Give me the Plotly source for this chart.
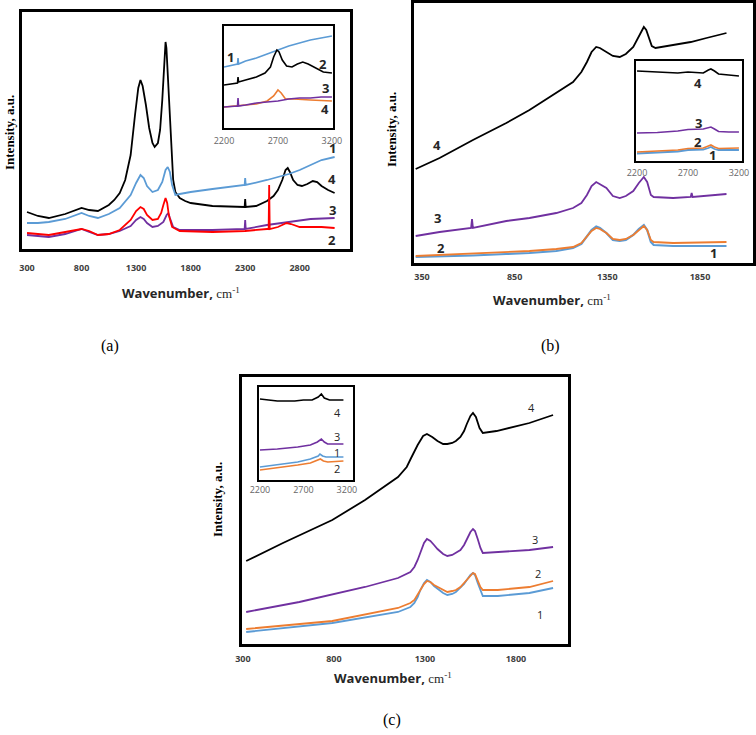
import plotly.graph_objects as go

W, H = 756, 735

BLACK = "#000000"
BLUE = "#5B9BD5"
ORANGE = "#ED7D31"
PURPLE = "#7030A0"
RED = "#FF0000"

# ---------------- Panel (a) main ----------------
A_BLACK_WN = [300, 400, 500, 650, 800, 870, 950, 1050, 1100, 1150, 1200, 1250, 1290, 1320, 1340, 1360, 1390, 1420, 1450, 1470, 1500, 1520, 1540, 1555, 1565, 1570, 1578, 1590, 1605, 1620, 1640, 1660, 1700, 1750, 1800, 2000, 2295, 2300, 2305, 2400, 2500, 2560, 2600, 2640, 2670, 2690, 2710, 2740, 2780, 2820, 2870, 2920, 2960, 3000, 3060, 3120]
A_BLACK_I = [37, 33, 31, 35, 41, 39, 38, 44, 49, 56, 69, 94, 134, 161, 169, 163, 144, 121, 106, 102, 106, 119, 149, 184, 204, 207, 201, 174, 134, 99, 69, 57, 51, 48, 46, 43, 42, 50, 42, 43, 48, 53, 59, 69, 79, 81, 77, 69, 64, 63, 65, 68, 67, 63, 59, 56]

A_BLUE_WN = [300, 400, 500, 650, 800, 870, 950, 1050, 1150, 1250, 1300, 1340, 1370, 1400, 1450, 1500, 1540, 1570, 1590, 1610, 1630, 1660, 1700, 1800, 2000, 2295, 2300, 2305, 2500, 2700, 2800, 2900, 3000, 3120]
A_BLUE_I = [26, 26, 27, 30, 36, 33, 31, 35, 41, 54, 66, 74, 71, 63, 57, 59, 67, 79, 82, 77, 64, 54, 55, 57, 60, 64, 71, 64, 69, 75, 79, 84, 89, 92]

A_RED_WN = [300, 400, 500, 650, 800, 870, 950, 1050, 1150, 1250, 1300, 1340, 1370, 1400, 1450, 1500, 1530, 1550, 1570, 1585, 1600, 1630, 1700, 2000, 2300, 2500, 2515, 2520, 2525, 2600, 2680, 2720, 2800, 3000, 3120]
A_RED_I = [16, 15, 14, 17, 20, 18, 14, 15, 19, 29, 38, 42, 40, 34, 29, 30, 36, 44, 51, 46, 34, 22, 18, 17, 18, 20, 20, 64, 20, 22, 26, 25, 22, 22, 21]

A_PURPLE_WN = [300, 400, 500, 650, 800, 870, 950, 1050, 1150, 1250, 1300, 1340, 1370, 1400, 1450, 1500, 1550, 1580, 1595, 1610, 1640, 1700, 2000, 2295, 2300, 2305, 2500, 2700, 2900, 3120]
A_PURPLE_I = [14, 13, 12, 15, 20, 17, 14, 15, 18, 23, 29, 32, 30, 26, 22, 23, 27, 34, 36, 31, 22, 19, 19, 20, 29, 20, 24, 27, 30, 31]

A_TICKS = [300, 800, 1300, 1800, 2300, 2800]

# ---------------- Panel (a) inset ----------------
AI_BLUE_WN = [2200, 2300, 2325, 2330, 2335, 2400, 2500, 2600, 2700, 2800, 2900, 3000, 3100, 3200]
AI_BLUE_I = [61, 64, 64, 70, 64, 67, 70, 74, 78, 82, 85, 88, 90, 92]
AI_BLACK_WN = [2200, 2300, 2325, 2330, 2335, 2400, 2500, 2580, 2630, 2660, 2690, 2710, 2740, 2780, 2830, 2880, 2930, 2980, 3050, 3120, 3200]
AI_BLACK_I = [43, 45, 45, 51, 46, 48, 51, 55, 61, 71, 78, 76, 68, 62, 61, 64, 66, 64, 60, 56, 55]
AI_ORANGE_WN = [2200, 2300, 2400, 2500, 2600, 2660, 2700, 2730, 2770, 2850, 3000, 3200]
AI_ORANGE_I = [21, 22, 23, 24, 27, 32, 38, 35, 29, 29, 28, 27]
AI_PURPLE_WN = [2200, 2325, 2330, 2335, 2400, 2500, 2600, 2700, 2800, 2900, 3000, 3100, 3200]
AI_PURPLE_I = [21, 22, 30, 22, 23, 25, 26, 27, 29, 30, 30, 31, 31]

INSET_TICKS = [2200, 2700, 3200]

# ---------------- Panel (b) main ----------------
B_BLACK_WN = [316, 445, 625, 805, 930, 1075, 1165, 1210, 1240, 1265, 1290, 1310, 1345, 1380, 1417, 1450, 1490, 1515, 1535, 1547, 1560, 1575, 1590, 1610, 1705, 1800, 1885, 1993]
B_BLACK_I = [94, 105, 123, 140, 153, 170, 181, 191, 201, 211, 216, 215, 211, 207, 206, 209, 216, 225, 233, 236, 233, 225, 217, 215, 218, 221, 225, 230]

B_PURPLE_WN = [316, 445, 615, 620, 625, 700, 805, 930, 1075, 1165, 1210, 1240, 1265, 1290, 1310, 1345, 1380, 1417, 1450, 1490, 1520, 1547, 1565, 1585, 1600, 1705, 1800, 1805, 1810, 1993]
B_PURPLE_I = [27, 31, 35, 44, 35, 38, 42, 45, 50, 55, 60, 68, 77, 81, 79, 75, 67, 65, 67, 72, 80, 86, 81, 68, 66, 65, 66, 70, 66, 69]

B_ORANGE_WN = [316, 445, 625, 805, 930, 1075, 1165, 1210, 1240, 1265, 1290, 1310, 1345, 1380, 1417, 1450, 1490, 1520, 1547, 1565, 1585, 1600, 1705, 1993]
B_ORANGE_I = [7, 8, 9, 11, 12, 14, 16, 20, 26, 32, 35, 34, 30, 24, 23, 24, 28, 33, 37, 33, 23, 21, 20, 21]

B_BLUE_WN = [316, 445, 625, 805, 930, 1075, 1165, 1210, 1240, 1265, 1290, 1310, 1345, 1380, 1417, 1450, 1490, 1520, 1547, 1565, 1585, 1600, 1705, 1993]
B_BLUE_I = [6, 6.5, 7.5, 9, 10, 12, 15, 19, 26, 33, 36.5, 35, 30, 23, 22, 23, 28, 34, 38, 33, 21, 18, 17, 17]

B_TICKS = [350, 850, 1350, 1850]

# ---------------- Panel (b) inset ----------------
BI_BLACK_WN = [2200, 2400, 2600, 2700, 2850, 2900, 2925, 2960, 3000, 3100, 3200]
BI_BLACK_I = [90, 89, 88, 89, 88, 91, 92, 90, 87, 86, 85]
BI_PURPLE_WN = [2200, 2400, 2600, 2700, 2850, 2900, 2925, 2960, 3000, 3100, 3200]
BI_PURPLE_I = [28, 28.5, 30, 31.5, 32, 33.5, 34, 32, 29.5, 29, 29]
BI_ORANGE_WN = [2200, 2400, 2600, 2700, 2850, 2900, 2925, 2960, 3000, 3200]
BI_ORANGE_I = [9, 10, 11, 12.5, 13, 15, 16, 14, 12.5, 13]
BI_BLUE_WN = [2200, 2400, 2600, 2700, 2850, 2900, 2925, 2960, 3000, 3200]
BI_BLUE_I = [7.5, 8.5, 9.5, 11, 11.5, 13, 14, 12, 11, 11]

# ---------------- Panel (c) main ----------------
C_BLACK_WN = [318, 520, 791, 971, 1152, 1200, 1224, 1260, 1290, 1311, 1340, 1369, 1400, 1423, 1450, 1470, 1495, 1515, 1530, 1550, 1564, 1580, 1600, 1618, 1693, 1874, 2004]
C_BLACK_I = [83, 101, 124, 144, 167, 177, 186, 199, 208, 210, 207, 203, 200, 200, 201, 203, 207, 213, 220, 228, 231, 227, 216, 211, 213, 221, 229]

C_PURPLE_WN = [318, 610, 971, 1152, 1220, 1242, 1260, 1275, 1295, 1311, 1330, 1350, 1369, 1400, 1423, 1450, 1470, 1495, 1515, 1530, 1550, 1564, 1575, 1590, 1605, 1618, 1700, 1874, 2004]
C_PURPLE_I = [32, 42, 57, 66, 72, 77, 84, 92, 101, 105, 103, 99, 95, 90, 88, 89, 91, 94, 99, 104, 112, 115, 113, 105, 96, 91, 92, 94, 97]

C_ORANGE_WN = [318, 791, 1152, 1220, 1242, 1260, 1275, 1295, 1311, 1330, 1350, 1369, 1400, 1423, 1450, 1470, 1495, 1515, 1530, 1550, 1564, 1575, 1590, 1605, 1618, 1700, 1874, 2004]
C_ORANGE_I = [15, 23, 36, 41, 44, 49, 54, 60, 63, 62, 59, 57, 54, 52, 53, 54, 57, 61, 64, 69, 71, 70, 63, 57, 54, 54, 57, 63]

C_BLUE_WN = [318, 791, 1152, 1220, 1242, 1260, 1275, 1295, 1311, 1330, 1350, 1369, 1400, 1423, 1450, 1470, 1495, 1515, 1530, 1550, 1564, 1575, 1590, 1605, 1618, 1700, 1874, 2004]
C_BLUE_I = [12, 21, 32, 37, 41, 47, 54, 61, 64, 62, 58, 55, 51, 49, 50, 52, 56, 60, 64, 69, 71, 69, 61, 53, 48, 48, 51, 56]

C_TICKS = [300, 800, 1300, 1800]

# ---------------- Panel (c) inset ----------------
CI_BLACK_WN = [2200, 2400, 2600, 2700, 2800, 2870, 2906, 2940, 3000, 3160]
CI_BLACK_I = [81, 79, 79, 80, 80, 83, 86, 82, 80, 80]
CI_PURPLE_WN = [2200, 2400, 2634, 2780, 2860, 2906, 2940, 2978, 3160]
CI_PURPLE_I = [30, 31, 33, 35, 38, 41, 38, 36, 36]
CI_BLUE_WN = [2200, 2400, 2634, 2780, 2870, 2890, 2920, 2960, 3160]
CI_BLUE_I = [13, 15, 18, 21, 24, 26, 24, 23, 23]
CI_ORANGE_WN = [2200, 2400, 2634, 2780, 2870, 2895, 2930, 2980, 3160]
CI_ORANGE_I = [10, 12, 15, 17, 20, 21, 19, 18, 19]


def xdom(l, r):
    return [l / W, r / W]


def ydom(t, b):
    return [1 - b / H, 1 - t / H]


def px(x, y):
    return x / W, 1 - y / H


fig = go.Figure()


def add(wn, inten, color, ax, width=1.8):
    fig.add_trace(go.Scatter(x=wn, y=inten, mode="lines",
                             line=dict(color=color, width=width),
                             xaxis="x" + ax, yaxis="y" + ax, showlegend=False,
                             hoverinfo="skip"))


# panel a
add(A_BLACK_WN, A_BLACK_I, BLACK, "")
add(A_BLUE_WN, A_BLUE_I, BLUE, "")
add(A_PURPLE_WN, A_PURPLE_I, PURPLE, "")
add(A_RED_WN, A_RED_I, RED, "")
# inset a
add(AI_BLUE_WN, AI_BLUE_I, BLUE, "2", 1.6)
add(AI_BLACK_WN, AI_BLACK_I, BLACK, "2", 1.6)
add(AI_ORANGE_WN, AI_ORANGE_I, ORANGE, "2", 1.6)
add(AI_PURPLE_WN, AI_PURPLE_I, PURPLE, "2", 1.6)
# panel b
add(B_BLACK_WN, B_BLACK_I, BLACK, "3")
add(B_PURPLE_WN, B_PURPLE_I, PURPLE, "3")
add(B_BLUE_WN, B_BLUE_I, BLUE, "3", 2.2)
add(B_ORANGE_WN, B_ORANGE_I, ORANGE, "3")
# inset b
add(BI_BLACK_WN, BI_BLACK_I, BLACK, "4", 1.6)
add(BI_PURPLE_WN, BI_PURPLE_I, PURPLE, "4", 1.6)
add(BI_BLUE_WN, BI_BLUE_I, BLUE, "4", 1.8)
add(BI_ORANGE_WN, BI_ORANGE_I, ORANGE, "4", 1.6)
# panel c
add(C_BLACK_WN, C_BLACK_I, BLACK, "5")
add(C_PURPLE_WN, C_PURPLE_I, PURPLE, "5")
add(C_BLUE_WN, C_BLUE_I, BLUE, "5")
add(C_ORANGE_WN, C_ORANGE_I, ORANGE, "5")
# inset c
add(CI_BLACK_WN, CI_BLACK_I, BLACK, "6", 1.6)
add(CI_PURPLE_WN, CI_PURPLE_I, PURPLE, "6", 1.6)
add(CI_BLUE_WN, CI_BLUE_I, BLUE, "6", 1.6)
add(CI_ORANGE_WN, CI_ORANGE_I, ORANGE, "6", 1.6)

MAIN_TICKFONT = dict(family="Open Sans, Liberation Sans, sans-serif", size=9, color="#404040", weight="bold")
INSET_TICKFONT = dict(family="Open Sans, Liberation Sans, sans-serif", size=9, color="#666666")


def xax(dom, rng, ticks, anchor, main=True, standoff=6, lw=2.5):
    return dict(domain=dom, range=rng, anchor=anchor, showgrid=False, zeroline=False,
                showline=True, mirror=True, linecolor="black", linewidth=lw,
                tickmode="array", tickvals=ticks, ticks="", ticklabelstandoff=standoff,
                tickfont=MAIN_TICKFONT if main else INSET_TICKFONT, fixedrange=True)


def yax(dom, rng, anchor, lw=2.5):
    return dict(domain=dom, range=rng, anchor=anchor, showgrid=False, zeroline=False,
                showline=True, mirror=True, linecolor="black", linewidth=lw,
                showticklabels=False, ticks="", fixedrange=True)


fig.update_layout(
    width=W, height=H, margin=dict(l=0, r=0, t=0, b=0, autoexpand=False),
    paper_bgcolor="white", plot_bgcolor="white",
    xaxis=xax(xdom(22, 350), [254, 3261], A_TICKS, "y", True, 8),
    yaxis=yax(ydom(12, 249), [0, 237], "x"),
    xaxis2=xax(xdom(224, 333), [2200, 3210], INSET_TICKS, "y2", False, 3, 2),
    yaxis2=yax(ydom(26, 128), [0, 102], "x2", 2),
    xaxis3=xax(xdom(414, 753), [307, 2136], B_TICKS, "y3", True, 3),
    yaxis3=yax(ydom(3, 263), [0, 260], "x3"),
    xaxis4=xax(xdom(636, 742), [2190, 3230], INSET_TICKS, "y4", False, 2, 2),
    yaxis4=yax(ydom(61, 161), [0, 100], "x4", 2),
    xaxis5=xax(xdom(242, 568), [295, 2086], C_TICKS, "y5", True, 4),
    yaxis5=yax(ydom(377, 644), [0, 267], "x5"),
    xaxis6=xax(xdom(259, 353), [2189, 3270], INSET_TICKS, "y6", False, 0, 2),
    yaxis6=yax(ydom(387, 480), [0, 93], "x6", 2),
)

annotations = []


def text(x, y, s, size=13, family="Liberation Serif, serif", bold=False, color="#000000", angle=0):
    ax_, ay_ = px(x, y)
    annotations.append(dict(x=ax_, y=ay_, xref="paper", yref="paper", text=s, showarrow=False,
                            xanchor="center", yanchor="middle", textangle=angle,
                            font=dict(size=size, family=family, color=color,
                                      weight="bold" if bold else "normal")))


WN_TITLE = ("<b>Wavenumber, </b><span style='font-family:Liberation Serif'>cm<sup>-1</sup></span>")
SANS = "Open Sans, Liberation Sans, sans-serif"

# axis titles
text(9, 133, "Intensity, a.u.", 13, bold=True, angle=-90)
text(181, 293, WN_TITLE, 13, family=SANS, color="#262626")
text(392, 130, "Intensity, a.u.", 13, bold=True, angle=-90)
text(552, 300, WN_TITLE, 13, family=SANS, color="#262626")
text(217, 500, "Intensity, a.u.", 13, bold=True, angle=-90)
text(393, 678, WN_TITLE, 13, family=SANS, color="#262626")

# panel letters
text(110, 346, "(a)", 16)
text(550, 346, "(b)", 16)
text(392, 720, "(c)", 16)

LBL = dict(size=13, family=SANS, bold=True, color="#262626")
# (a) main labels
text(332, 148, "1", **LBL)
text(332, 179, "4", **LBL)
text(332, 210, "3", **LBL)
text(332, 240, "2", **LBL)
# (a) inset labels
text(230, 57, "1", **LBL)
text(323, 64, "2", **LBL)
text(325, 88, "3", **LBL)
text(325, 109, "4", **LBL)
# (b) main labels
text(437, 145, "4", **LBL)
text(437, 218, "3", **LBL)
text(441, 248, "2", **LBL)
text(713, 253, "1", **LBL)
# (b) inset labels
text(698, 83, "4", **LBL)
text(698, 123, "3", **LBL)
text(698, 142, "2", **LBL)
text(712, 155, "1", **LBL)
LBLC = dict(size=11, family=SANS, bold=False, color="#262626")
# (c) main labels
text(531, 407, "4", **LBLC)
text(535, 539, "3", **LBLC)
text(538, 573, "2", **LBLC)
text(540, 614, "1", **LBLC)
# (c) inset labels
text(337, 412, "4", **LBLC)
text(337, 437, "3", **LBLC)
text(337, 453, "1", **LBLC)
text(337, 468, "2", **LBLC)

fig.update_layout(annotations=annotations)

fig.write_html("out.html", config={"displayModeBar": False},
               post_script="document.body.style.margin='0';document.body.style.overflow='hidden';")
